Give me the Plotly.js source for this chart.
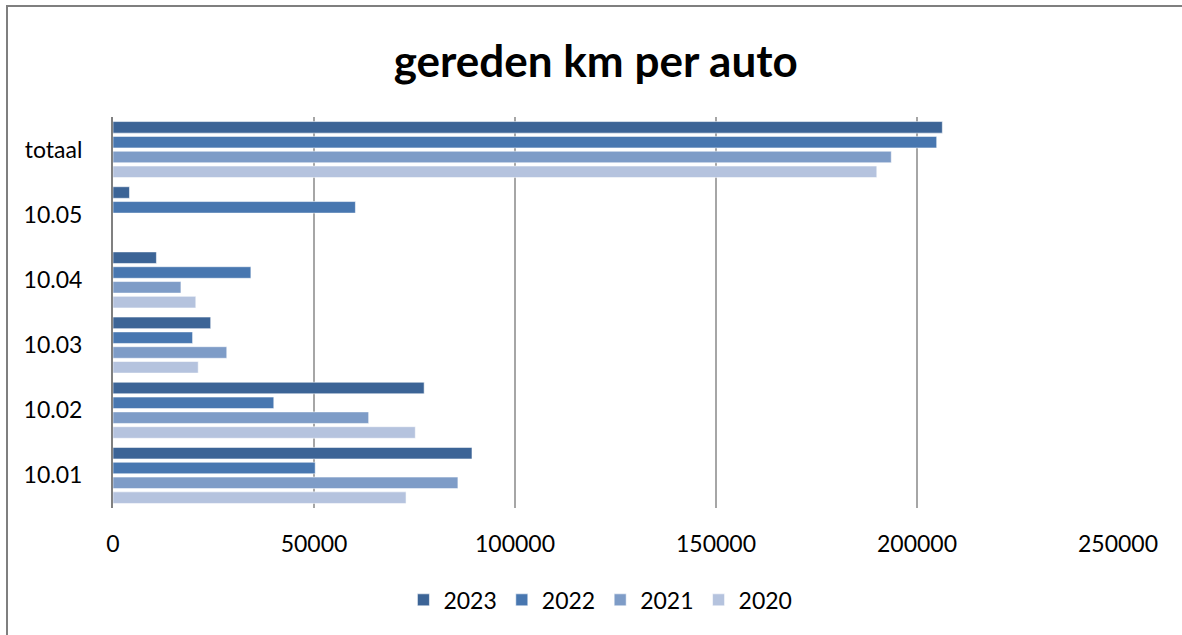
<!DOCTYPE html>
<html>
<head>
<meta charset="utf-8">
<script src="https://cdn.plot.ly/plotly-3.0.1.min.js"></script>
<style>
html,body{margin:0;padding:0;background:#fff;overflow:hidden;}
#chart{position:absolute;left:0;top:0;width:1182px;height:635px;}
#frame{position:absolute;left:6px;top:5px;width:1200px;height:700px;border-top:2px solid #7f7f7f;border-left:2px solid #7f7f7f;pointer-events:none;}
</style>
</head>
<body>
<div id="chart"></div>
<div id="frame"></div>
<script>
const categories = ["10.01", "10.02", "10.03", "10.04", "10.05", "totaal"];
const years = ["2020", "2021", "2022", "2023"];
const values2020 = [72900, 75200, 21200, 20600, null, 190000];
const values2021 = [85800, 63600, 28300, 16900, null, 193600];
const values2022 = [50300, 40000, 19800, 34300, 60300, 204900];
const values2023 = [89300, 77400, 24300, 10800, 4100, 206300];
const xTicks = [0, 50000, 100000, 150000, 200000, 250000];
const colors = {"2020": "#b5c3de", "2021": "#7e9cc7", "2022": "#4877b0", "2023": "#3c6496"};
const series = {"2020": values2020, "2021": values2021, "2022": values2022, "2023": values2023};

const traces = years.map(y => ({
  type: "bar",
  orientation: "h",
  name: y,
  y: categories,
  x: series[y],
  marker: {color: colors[y], line: {color: "rgba(255,255,255,0.55)", width: 1}},
  hoverinfo: "x+name"
}));

const font = "Lato, 'Noto Sans', sans-serif";
const layout = {
  width: 1182, height: 635,
  paper_bgcolor: "#ffffff", plot_bgcolor: "#ffffff",
  margin: {l: 113, r: 64, t: 117, b: 127, pad: 0},
  barmode: "group",
  bargap: 0.09,
  bargroupgap: 0.22,
  font: {family: font, size: 22, color: "#000000"},
  title: {
    text: "<b>gereden km per auto</b>",
    font: {family: font, size: 44, color: "#000000"},
    x: 0.504, xref: "container", xanchor: "center",
    y: 0.903, yref: "container", yanchor: "middle"
  },
  xaxis: {
    range: [0, 250000],
    tickvals: xTicks,
    ticktext: xTicks.map(String),
    showgrid: true, gridcolor: "#a6a6a6", gridwidth: 1.3,
    zeroline: false, showline: false, ticks: "",
    ticklabelstandoff: 20,
    tickfont: {family: font, size: 23, color: "#000000"},
    fixedrange: true
  },
  yaxis: {
    type: "category",
    categoryorder: "array",
    categoryarray: categories,
    showgrid: false, zeroline: false,
    showline: true, linecolor: "#808080", linewidth: 2,
    ticks: "",
    ticklabelstandoff: 24,
    tickfont: {family: font, size: 23, color: "#000000"},
    fixedrange: true
  },
  showlegend: true,
  legend: {
    orientation: "h",
    traceorder: "reversed",
    x: 0.485, xanchor: "center",
    y: -0.235, yanchor: "middle",
    font: {family: font, size: 23, color: "#000000"},
    itemwidth: 30,
    bgcolor: "rgba(0,0,0,0)"
  }
};

Plotly.newPlot("chart", traces, layout, {displayModeBar: false, staticPlot: true});
</script>
</body>
</html>
